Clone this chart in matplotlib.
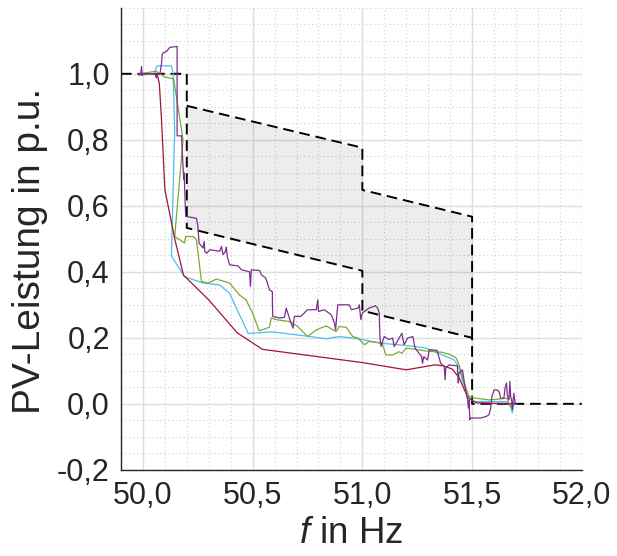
import numpy as np
import matplotlib
matplotlib.use("Agg")
import matplotlib.pyplot as plt
from matplotlib.ticker import MultipleLocator, FuncFormatter

plt.rcParams['font.family'] = ['Liberation Sans', 'DejaVu Sans']
plt.rcParams['mathtext.fontset'] = 'custom'
plt.rcParams['mathtext.it'] = 'Liberation Sans:italic'
plt.rcParams['mathtext.rm'] = 'Liberation Sans'

# =========================
# Grenzkurven (Toleranzband)
# =========================
f_lim_a = [49.9, 50.2, 50.2, 51.0, 51.0, 51.5, 51.5, 52.0]
p_lim_a = [1.0, 1.0, 0.533, 0.403, 0.282, 0.200, 0.0, 0.0]
f_lim_b = [50.2, 51.0, 51.0, 51.5, 51.5]
p_lim_b = [0.903, 0.776, 0.648, 0.567, 0.200]

# Band (oben / unten)
f_band = [50.2, 51.0, 51.0, 51.5]
p_band_hi = [0.903, 0.776, 0.648, 0.567]
p_band_lo = [0.533, 0.403, 0.282, 0.200]

# =========================
# Messungen
# =========================
f_red = [49.98, 50.065, 50.075, 50.085, 50.10, 50.145, 50.185, 50.30, 50.43, 50.545,
         51.0, 51.2, 51.33, 51.37, 51.41, 51.44, 51.48, 51.50, 51.52, 51.70]
p_red = [1.0, 1.0, 0.97, 0.86, 0.65, 0.50, 0.39, 0.315, 0.215, 0.165,
         0.125, 0.103, 0.118, 0.115, 0.105, 0.08, 0.02, 0.01, 0.003, 0.0]

f_blue = [49.98, 50.05, 50.065, 50.13, 50.138, 50.145, 50.13, 50.19, 50.274, 50.35,
          50.395, 50.44, 50.48, 50.59, 50.76, 50.835, 50.895, 50.99, 51.08, 51.21,
          51.29, 51.365, 51.418, 51.44, 51.456, 51.47, 51.483, 51.517, 51.653, 51.676,
          51.683, 51.69, 51.70]
p_blue = [0.995, 1.0, 1.024, 1.024, 1.0, 0.83, 0.448, 0.385, 0.366, 0.36,
          0.335, 0.27, 0.213, 0.218, 0.204, 0.197, 0.204, 0.196, 0.184, 0.176,
          0.169, 0.148, 0.133, 0.11, 0.07, 0.045, 0.014, 0.007, 0.007, -0.003,
          -0.028, -0.003, 0.0]

f_green = [49.99, 50.06, 50.10, 50.14, 50.16, 50.183, 50.145, 50.168, 50.19, 50.195,
           50.229, 50.244, 50.267, 50.297, 50.335, 50.395, 50.44, 50.47, 50.50, 50.53,
           50.577, 50.585, 50.608, 50.67, 50.706, 50.75, 50.79, 50.835, 50.88, 50.895,
           50.926, 50.956, 50.98, 51.01, 51.03, 51.09, 51.107, 51.138, 51.168, 51.18,
           51.2, 51.25, 51.29, 51.365, 51.395, 51.426, 51.44, 51.464, 51.486, 51.517,
           51.577, 51.615, 51.66, 51.668, 51.683, 51.69]
p_green = [1.0, 1.008, 0.99, 0.985, 0.9, 0.80, 0.507, 0.497, 0.487, 0.507,
           0.507, 0.497, 0.371, 0.366, 0.378, 0.366, 0.33, 0.315, 0.275, 0.221,
           0.232, 0.26, 0.255, 0.249, 0.234, 0.204, 0.224, 0.236, 0.219, 0.234,
           0.232, 0.204, 0.199, 0.179, 0.189, 0.184, 0.148, 0.148, 0.158, 0.153,
           0.169, 0.164, 0.16, 0.156, 0.15, 0.14, 0.12, 0.063, 0.022, 0.017,
           0.012, 0.014, 0.017, -0.003, -0.013, 0.002]

f_purple = [49.98, 49.99, 49.994, 49.996, 50.0, 50.03, 50.055, 50.062, 50.066, 50.078,
            50.085, 50.088, 50.092, 50.108, 50.123, 50.156, 50.156, 50.176, 50.18, 50.183,
            50.186, 50.188, 50.192, 50.195, 50.244, 50.25, 50.256, 50.274, 50.279, 50.282,
            50.29, 50.305, 50.35, 50.358, 50.365, 50.375, 50.38, 50.385, 50.395, 50.433,
            50.45, 50.486, 50.49, 50.494, 50.532, 50.54, 50.56, 50.577, 50.59, 50.59,
            50.592, 50.623, 50.645, 50.653, 50.67, 50.684, 50.69, 50.72, 50.735, 50.75,
            50.79, 50.797, 50.80, 50.827, 50.858, 50.873, 50.878, 50.888, 50.94, 50.95,
            50.98, 50.986, 50.993, 51.0, 51.03, 51.06, 51.07, 51.077, 51.08, 51.085,
            51.1, 51.12, 51.138, 51.145, 51.16, 51.18, 51.19, 51.206, 51.23, 51.24,
            51.27, 51.274, 51.28, 51.297, 51.305, 51.34, 51.357, 51.373, 51.377, 51.38,
            51.395, 51.433, 51.437, 51.44, 51.456, 51.47, 51.48, 51.483, 51.486, 51.49,
            51.494, 51.54, 51.565, 51.577, 51.585, 51.59, 51.6, 51.615, 51.623, 51.63,
            51.645, 51.65, 51.657, 51.66, 51.668, 51.672, 51.676, 51.68, 51.683, 51.686,
            51.69, 51.695, 51.70]
p_purple = [1.0, 1.0, 1.022, 0.995, 1.0, 1.0, 1.0, 0.987, 1.0, 1.0,
            1.032, 1.058, 1.063, 1.068, 1.080, 1.083, 0.812, 0.812, 0.76, 0.72,
            0.68, 0.70, 0.62, 0.568, 0.562, 0.542, 0.487, 0.472, 0.492, 0.462,
            0.456, 0.467, 0.462, 0.477, 0.452, 0.46, 0.475, 0.445, 0.421, 0.418,
            0.406, 0.40, 0.356, 0.406, 0.404, 0.391, 0.381, 0.345, 0.34, 0.305,
            0.265, 0.26, 0.262, 0.29, 0.255, 0.229, 0.265, 0.265, 0.275, 0.285,
            0.285, 0.315, 0.28, 0.285, 0.27, 0.245, 0.224, 0.30, 0.30, 0.285,
            0.29, 0.30, 0.255, 0.275, 0.29, 0.297, 0.29, 0.275, 0.204, 0.174,
            0.204, 0.195, 0.199, 0.174, 0.19, 0.214, 0.179, 0.199, 0.204, 0.169,
            0.143, 0.123, 0.143, 0.133, 0.164, 0.162, 0.123, 0.113, 0.073, 0.108,
            0.118, 0.115, 0.063, 0.093, 0.103, 0.042, 0.012, -0.013, 0.01, -0.048,
            -0.043, -0.043, -0.038, -0.033, -0.013, 0.022, 0.042, 0.042, 0.037, 0.017,
            0.017, 0.048, 0.063, 0.027, 0.012, 0.068, 0.02, 0.012, -0.018, 0.002,
            0.032, 0.007, 0.0]

c_red = '#A2142F'
c_blue = '#4DBEEE'
c_green = '#77AC30'
c_purple = '#7E2F8E'
c_text = '#262626'

# =========================
# Plot
# =========================
fig = plt.figure(figsize=(6.17, 5.56), dpi=100)
ax = fig.add_axes([0.196, 0.155, 0.747, 0.831])

ax.fill_between(f_band, p_band_lo, p_band_hi, color='k', alpha=0.07, linewidth=0, zorder=1)

ax.plot(f_lim_a, p_lim_a, color='k', lw=1.4, dashes=(5.5, 3), zorder=2)
ax.plot(f_lim_b, p_lim_b, color='k', lw=1.4, dashes=(5.5, 3), zorder=2)

ax.plot(f_blue, p_blue, color=c_blue, lw=0.9, zorder=3)
ax.plot(f_green, p_green, color=c_green, lw=0.9, zorder=3)
ax.plot(f_red, p_red, color=c_red, lw=0.9, zorder=3)
ax.plot(f_purple, p_purple, color=c_purple, lw=0.9, zorder=3)

ax.set_xlim(49.9, 52.0)
ax.set_ylim(-0.2, 1.2)
ax.set_xticks(np.arange(50.0, 52.01, 0.5))
ax.set_yticks(np.arange(-0.2, 1.01, 0.2))
ax.xaxis.set_minor_locator(MultipleLocator(0.1))
ax.yaxis.set_minor_locator(MultipleLocator(0.05))

komma = FuncFormatter(lambda v, pos: f"{v:.1f}".replace('.', ',').replace('-0,0', '0,0'))
ax.xaxis.set_major_formatter(komma)
ax.yaxis.set_major_formatter(komma)

ax.set_axisbelow(True)
ax.grid(which='major', color='#dedede', lw=1.0, linestyle='-')
ax.grid(which='minor', color='#cfcfcf', lw=0.8, linestyle=(0, (1, 2.5)))

for s in ['top', 'right']:
    ax.spines[s].set_visible(False)
for s in ['left', 'bottom']:
    ax.spines[s].set_color(c_text)
    ax.spines[s].set_linewidth(1.0)

ax.tick_params(which='both', length=0, labelsize=22, colors=c_text, pad=8)

ax.set_xlabel(r"$\mathit{f}$ in Hz", fontsize=26.5, color=c_text, labelpad=4)
ax.set_ylabel("PV-Leistung in p.u.", fontsize=28, color=c_text)
ax.yaxis.set_label_coords(-0.158, 0.474)

fig.savefig("out.png", dpi=100)
